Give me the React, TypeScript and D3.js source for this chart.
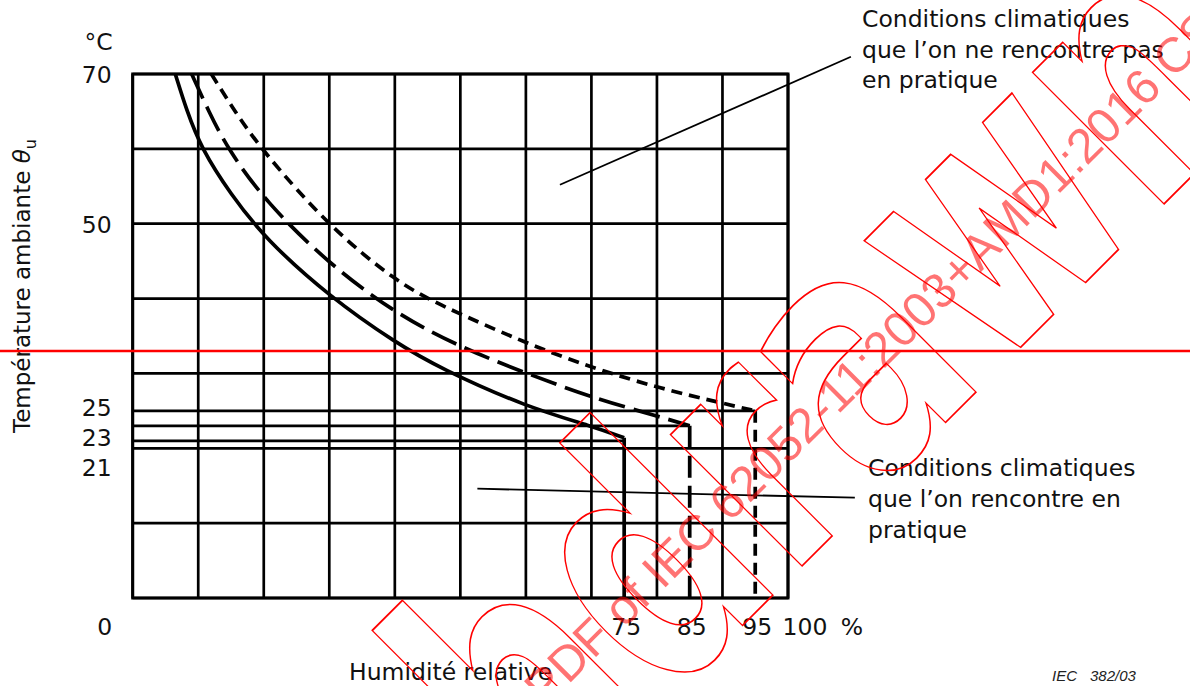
import React from "react";
import * as d3 from "d3";

const WIDTH = 1190;
const HEIGHT = 686;

// humidity (%) vs ambient temperature (°C)
const curve75: [number, number][] = [
  [6.5, 70], [8.2, 65.2], [10.5, 60], [14.9, 54], [20.2, 48], [30.1, 40.2],
  [40.3, 34], [46.9, 30.7], [60.1, 25.5], [70.3, 22.9], [75, 21.4],
];
const curve85: [number, number][] = [
  [9, 70], [11.6, 65], [14.5, 60], [20.2, 53], [30.1, 44.5], [40.3, 37.9],
  [50, 33.5], [60.1, 30], [70.3, 26.7], [80.5, 24.2], [85, 23],
];
const curve95: [number, number][] = [
  [12, 70], [15, 65.8], [19.5, 60], [30.1, 49.5], [40.3, 42.2], [46.9, 39.1],
  [60.1, 34], [70.3, 30.7], [80.5, 28], [90.1, 26], [95, 25],
];

const humidityGrid = [0, 10, 20, 30, 40, 50, 60, 70, 80, 90, 100];
const tempGrid = [0, 10, 20, 30, 40, 50, 60, 70];
const limitHumidity = [75, 85, 95];
const limitTemp = [21, 23, 25];
const cornerTemp = [21.4, 23, 25];

const xTickLabels = ["75", "85", "95", "100"];
const xTickValues = [75, 85, 95, 100];
const yTickMain = [70, 50];
const yTickCluster = [25, 23, 21];

// leader lines, data coords [x%, °C]
const leaders: [number, number][][] = [
  [[65.2, 55.2], [109.6, 72.3]],
  [[52.6, 14.6], [110.2, 13.4]],
];

const noteTop = ["Conditions climatiques", "que l’on ne rencontre pas", "en pratique"];
const noteBottom = ["Conditions climatiques", "que l’on rencontre en", "pratique"];

const FONT = "DejaVu Sans";

export default function App() {
  const x = d3.scaleLinear().domain([0, 100]).range([132.7, 788]);
  const y = d3.scaleLinear().domain([0, 70]).range([598, 74]);

  const line = d3
    .line<[number, number]>()
    .x((d) => x(d[0]))
    .y((d) => y(d[1]))
    .curve(d3.curveBasis);

  const styles = [
    { data: curve75, dash: undefined, dropDash: undefined },
    { data: curve85, dash: "27 9", dropDash: "22 8" },
    { data: curve95, dash: "11 7", dropDash: "12 7" },
  ];

  const labelBase = y(0) + 37;

  return (
    <svg
      width={WIDTH}
      height={HEIGHT}
      style={{ position: "absolute", left: 0, top: 0, background: "#fff" }}
      fontFamily={FONT}
    >
      <rect width={WIDTH} height={HEIGHT} fill="#fff" />

      {/* grid */}
      <g stroke="#000" strokeWidth={2.7}>
        {humidityGrid.map((h) => (
          <line key={"v" + h} x1={x(h)} x2={x(h)} y1={y(0)} y2={y(70)} />
        ))}
        {tempGrid.map((t) => (
          <line key={"h" + t} x1={x(0)} x2={x(100)} y1={y(t)} y2={y(t)} />
        ))}
        {limitTemp.map((t, i) => (
          <line key={"l" + t} x1={x(0)} x2={x(limitHumidity[i])} y1={y(t)} y2={y(t)} />
        ))}
      </g>
      <rect
        x={x(0)}
        y={y(70)}
        width={x(100) - x(0)}
        height={y(0) - y(70)}
        fill="none"
        stroke="#000"
        strokeWidth={3}
      />

      {/* curves */}
      {styles.map((s, i) => (
        <g key={"c" + i} fill="none" stroke="#000" strokeWidth={3.7}>
          <path d={line(s.data) || ""} strokeDasharray={s.dash} />
          <line
            x1={x(limitHumidity[i])}
            x2={x(limitHumidity[i])}
            y1={y(cornerTemp[i])}
            y2={y(0)}
            strokeDasharray={s.dropDash}
          />
        </g>
      ))}

      {/* leader lines */}
      {leaders.map((l, i) => (
        <line
          key={"ld" + i}
          x1={x(l[0][0])}
          y1={y(l[0][1])}
          x2={x(l[1][0])}
          y2={y(l[1][1])}
          stroke="#000"
          strokeWidth={1.8}
        />
      ))}

      {/* axis labels */}
      <g fontSize={23.5} fill="#111">
        {xTickValues.map((v, i) => (
          <text
            key={"xt" + v}
            x={x(v) + (v === 100 ? 17 : 2)}
            y={labelBase}
            textAnchor="middle"
          >
            {xTickLabels[i]}
          </text>
        ))}
        <text x={x(100) + 64} y={labelBase} textAnchor="middle">%</text>
        <text x={x(0) - 28} y={labelBase} textAnchor="middle">0</text>

        {yTickMain.map((v) => (
          <text key={"yt" + v} x={x(0) - 21} y={y(v) + 9} textAnchor="end">
            {v}
          </text>
        ))}
        {yTickCluster.map((v, i) => (
          <text
            key={"yc" + v}
            x={x(0) - 21}
            y={y(yTickCluster[0]) - 4 + i * 30 + 9}
            textAnchor="end"
          >
            {v}
          </text>
        ))}
        <text x={x(0) - 20} y={50} textAnchor="end">°C</text>

        <text transform={`translate(30,433) rotate(-90)`} fontSize={23}>
          Température ambiante{" "}
          <tspan fontStyle="italic">θ</tspan>
          <tspan fontSize={16} dy={6}>u</tspan>
        </text>

        <text x={349} y={680}>Humidité relative</text>

        {noteTop.map((t, i) => (
          <text key={"nt" + i} x={862} y={27 + i * 30.5}>{t}</text>
        ))}
        {noteBottom.map((t, i) => (
          <text key={"nb" + i} x={868} y={476 + i * 31}>{t}</text>
        ))}
      </g>

      <g fontFamily="Liberation Sans" fontStyle="italic" fontSize={15} fill="#222">
        <text x={1052} y={681}>IEC</text>
        <text x={1090} y={681}>382/03</text>
      </g>

      {/* watermark */}
      <g>
        <line x1={0} x2={WIDTH} y1={351} y2={351} stroke="#ff0000" strokeWidth={2.5} />
        <text
          transform="translate(545,708) rotate(-45)"
          fontFamily="Liberation Sans"
          fontSize={49}
          fill="#ff0000"
          fillOpacity={0.55}
        >
          PDF of IEC 62052-11:2003+AMD1:2016 CSV
        </text>
        <text
          transform="translate(740,628) rotate(-45) scale(0.72,1)"
          textAnchor="middle"
          fontFamily={FONT}
          fontWeight="bold"
          fontSize={340}
          fill="none"
          stroke="#ff0000"
          strokeWidth={1.5}
          vectorEffect="non-scaling-stroke"
        >
          Withdrawn
        </text>
      </g>
    </svg>
  );
}
